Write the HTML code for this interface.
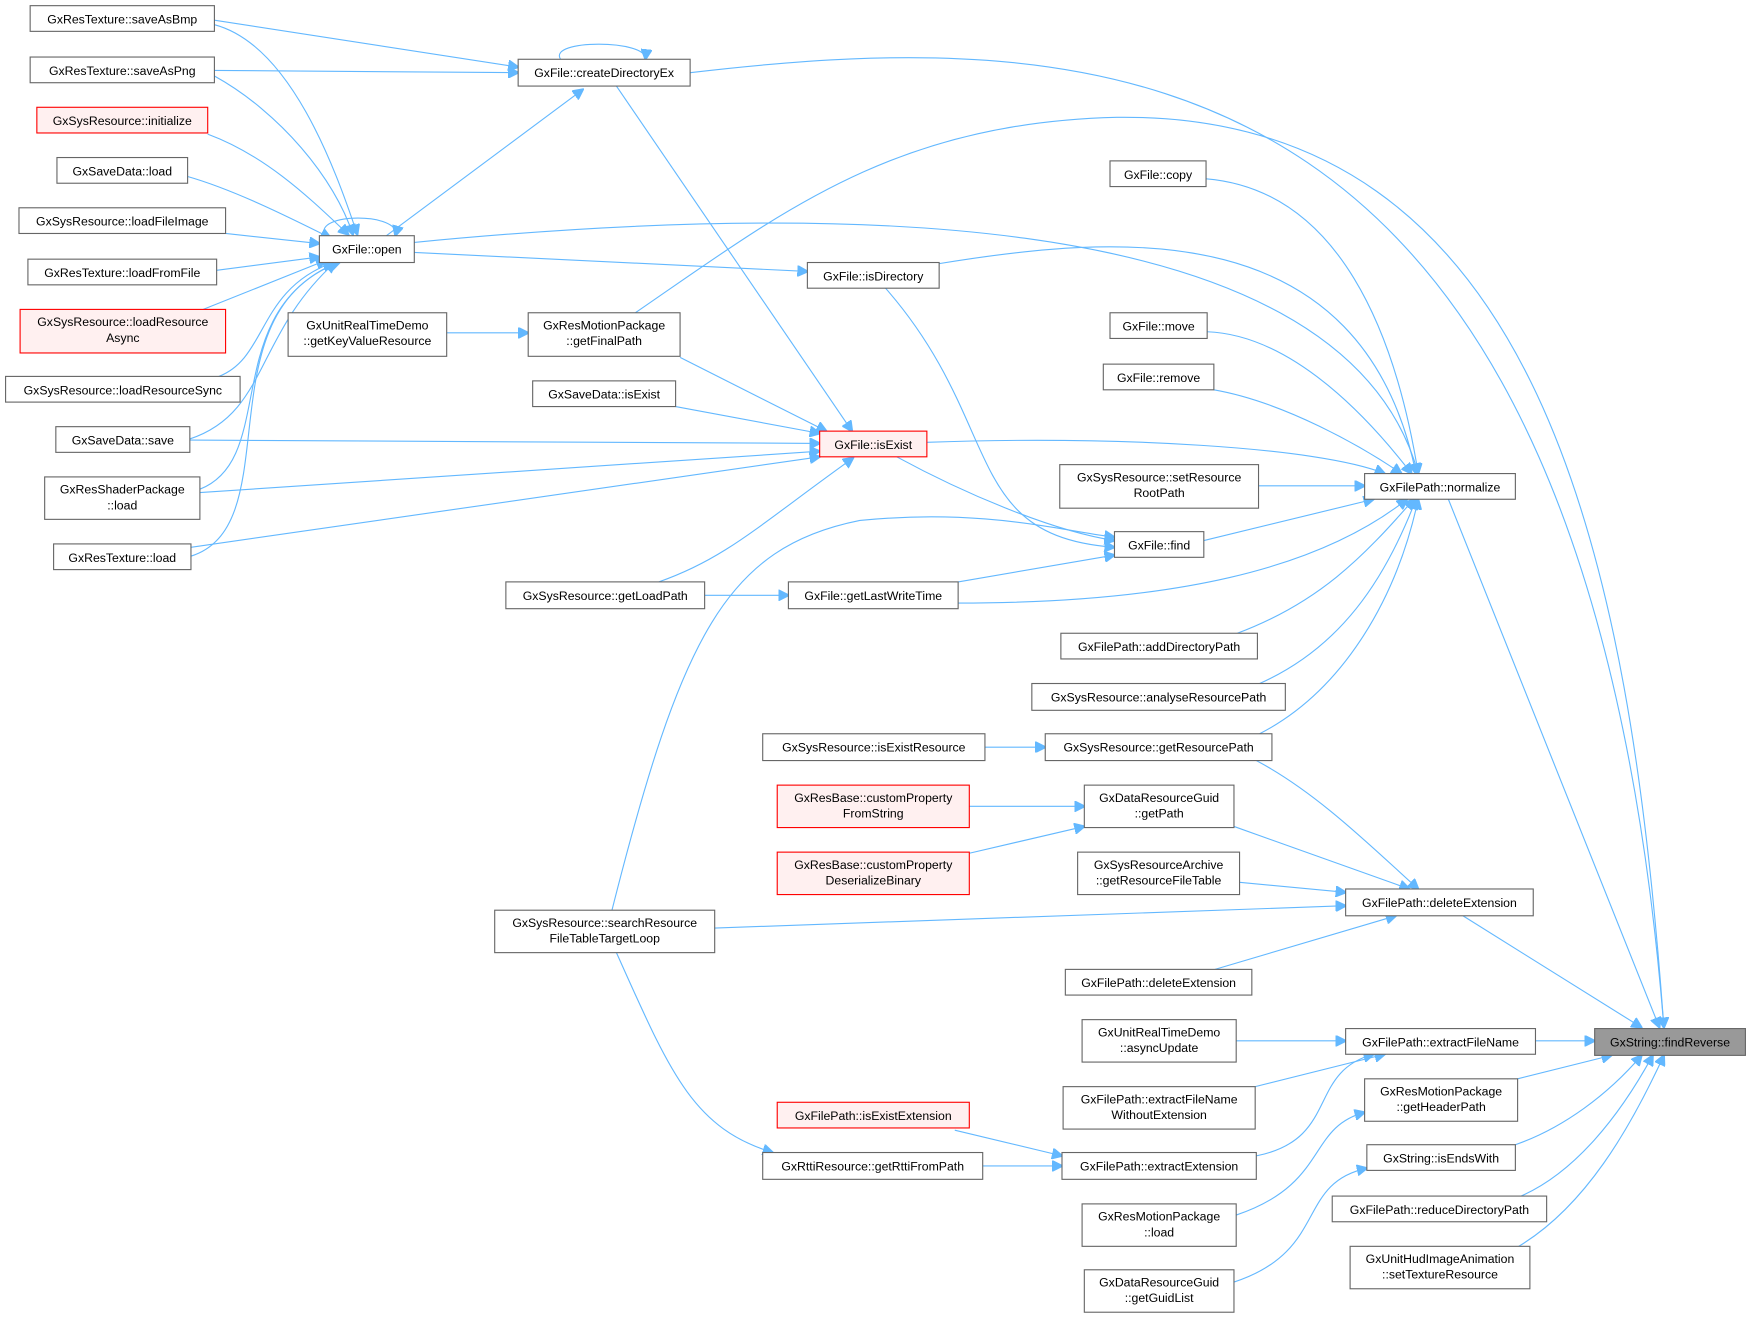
<!DOCTYPE html>
<html><head><meta charset="utf-8"><style>
html,body{margin:0;padding:0;background:#fff;}
svg{display:block}
text{font-family:"Liberation Sans",sans-serif;font-size:11px;fill:#000;text-anchor:middle}
.n{fill:#fff;stroke:#666;stroke-width:1}
.r{fill:#fff0f0;stroke:#f00;stroke-width:1}
.g{fill:#999;stroke:#666;stroke-width:1}
.e{fill:none;stroke:#63b8ff;stroke-width:1}
</style></head><body>
<svg width="1751" height="1319" viewBox="0 0 1568 1181" xmlns="http://www.w3.org/2000/svg">
<defs><marker id="a" viewBox="0 0 10 10" refX="9" refY="5" markerWidth="10" markerHeight="10" markerUnits="userSpaceOnUse" orient="auto"><path d="M0,0 L10,5 L0,10 z" fill="#63b8ff" stroke="#63b8ff"/></marker></defs>
<g class="edges">
<path class="e" marker-end="url(#a)" d="M192,18 L464,60"/>
<path class="e" marker-end="url(#a)" d="M192,63 L464,65"/>
<path class="e" marker-end="url(#a)" d="M192,22 C260,40 300,150 320,210"/>
<path class="e" marker-end="url(#a)" d="M192,68 C250,100 300,160 316,210"/>
<path class="e" marker-end="url(#a)" d="M186,120 C240,140 280,180 312,210"/>
<path class="e" marker-end="url(#a)" d="M168,158 C210,170 260,195 296,213"/>
<path class="e" marker-end="url(#a)" d="M202,209 L286,218"/>
<path class="e" marker-end="url(#a)" d="M194,242 L286,230"/>
<path class="e" marker-end="url(#a)" d="M182,277 L292,233"/>
<path class="e" marker-end="url(#a)" d="M196,337 C240,320 230,260 298,235"/>
<path class="e" marker-end="url(#a)" d="M170,393 C240,370 228,300 300,235"/>
<path class="e" marker-end="url(#a)" d="M179,438 C250,410 195,280 302,235"/>
<path class="e" marker-end="url(#a)" d="M171,498 C260,470 180,280 304,235"/>
<path class="e" marker-end="url(#a)" d="M291,211 C280,190 360,190 354,211"/>
<path class="e" marker-end="url(#a)" d="M502,53 C490,35 580,35 578,53"/>
<path class="e" marker-end="url(#a)" d="M346,211 L522,80"/>
<path class="e" marker-end="url(#a)" d="M552,77 L763,386"/>
<path class="e" marker-end="url(#a)" d="M618,65 C1000,20 1420,40 1490,920"/>
<path class="e" marker-end="url(#a)" d="M569,280 C700,190 800,110 1000,105 C1380,100 1460,500 1490,920"/>
<path class="e" marker-end="url(#a)" d="M371,217 C700,185 1200,170 1270,424"/>
<path class="e" marker-end="url(#a)" d="M371,226 L723,243"/>
<path class="e" marker-end="url(#a)" d="M400,298 L473,298"/>
<path class="e" marker-end="url(#a)" d="M609,320 L740,386"/>
<path class="e" marker-end="url(#a)" d="M605,364 L734,388"/>
<path class="e" marker-end="url(#a)" d="M170,394 L734,397"/>
<path class="e" marker-end="url(#a)" d="M179,441 L734,404"/>
<path class="e" marker-end="url(#a)" d="M171,490 L734,409"/>
<path class="e" marker-end="url(#a)" d="M590,521 C650,500 680,470 764,410"/>
<path class="e" marker-end="url(#a)" d="M803,409 C860,440 940,475 998,484"/>
<path class="e" marker-end="url(#a)" d="M793,258 C900,380 860,480 998,490"/>
<path class="e" marker-end="url(#a)" d="M548,815 C610,570 650,490 770,466 C880,455 950,475 998,481"/>
<path class="e" marker-end="url(#a)" d="M858,521 L998,497"/>
<path class="e" marker-end="url(#a)" d="M631,533 L706,533"/>
<path class="e" marker-end="url(#a)" d="M830,396 C1000,390 1180,400 1240,424"/>
<path class="e" marker-end="url(#a)" d="M858,540 C1050,540 1180,510 1260,447"/>
<path class="e" marker-end="url(#a)" d="M841,236 C1000,210 1220,190 1268,424"/>
<path class="e" marker-end="url(#a)" d="M1080,160 C1200,170 1250,300 1270,424"/>
<path class="e" marker-end="url(#a)" d="M1081,297 C1160,300 1230,380 1264,424"/>
<path class="e" marker-end="url(#a)" d="M1087,349 C1150,360 1220,400 1255,424"/>
<path class="e" marker-end="url(#a)" d="M1127,435 L1222,435"/>
<path class="e" marker-end="url(#a)" d="M1078,484 L1230,447"/>
<path class="e" marker-end="url(#a)" d="M1108,567 C1180,540 1220,500 1266,447"/>
<path class="e" marker-end="url(#a)" d="M1128,612 C1200,580 1240,520 1268,447"/>
<path class="e" marker-end="url(#a)" d="M1128,657 C1200,620 1250,540 1270,447"/>
<path class="e" marker-end="url(#a)" d="M882,669 L936,669"/>
<path class="e" marker-end="url(#a)" d="M1297,447 L1486,920"/>
<path class="e" marker-end="url(#a)" d="M1125,681 C1180,710 1230,760 1270,796"/>
<path class="e" marker-end="url(#a)" d="M868,722 L971,722"/>
<path class="e" marker-end="url(#a)" d="M868,764 L971,740"/>
<path class="e" marker-end="url(#a)" d="M1105,740 L1262,796"/>
<path class="e" marker-end="url(#a)" d="M1110,790 L1205,799"/>
<path class="e" marker-end="url(#a)" d="M640,831 L1205,811"/>
<path class="e" marker-end="url(#a)" d="M1088,868 L1250,820"/>
<path class="e" marker-end="url(#a)" d="M1310,820 L1470,920"/>
<path class="e" marker-end="url(#a)" d="M1107,932 L1205,932"/>
<path class="e" marker-end="url(#a)" d="M1124,973 L1240,944"/>
<path class="e" marker-end="url(#a)" d="M1125,1035 C1200,1020 1170,960 1230,944"/>
<path class="e" marker-end="url(#a)" d="M855,1012 L951,1035"/>
<path class="e" marker-end="url(#a)" d="M880,1044 L951,1044"/>
<path class="e" marker-end="url(#a)" d="M552,853 C600,960 620,1010 692,1032"/>
<path class="e" marker-end="url(#a)" d="M1107,1088 C1190,1060 1170,1010 1222,996"/>
<path class="e" marker-end="url(#a)" d="M1105,1148 C1190,1120 1160,1060 1224,1046"/>
<path class="e" marker-end="url(#a)" d="M1375,932 L1428,932"/>
<path class="e" marker-end="url(#a)" d="M1359,966 L1443,945"/>
<path class="e" marker-end="url(#a)" d="M1357,1025 C1400,1010 1440,980 1470,945"/>
<path class="e" marker-end="url(#a)" d="M1362,1071 C1410,1050 1450,1000 1480,945"/>
<path class="e" marker-end="url(#a)" d="M1360,1116 C1420,1080 1460,1010 1490,945"/>
</g>
<g>
<rect class="n" x="27" y="5" width="165" height="23"/><text x="109.5" y="21">GxResTexture::saveAsBmp</text>
<rect class="n" x="27" y="51" width="165" height="23"/><text x="109.5" y="67">GxResTexture::saveAsPng</text>
<rect class="r" x="33" y="96" width="153" height="23"/><text x="109.5" y="112">GxSysResource::initialize</text>
<rect class="n" x="51" y="141" width="117" height="23"/><text x="109.5" y="157">GxSaveData::load</text>
<rect class="n" x="17" y="186" width="185" height="23"/><text x="109.5" y="202">GxSysResource::loadFileImage</text>
<rect class="n" x="25" y="232" width="169" height="23"/><text x="109.5" y="248">GxResTexture::loadFromFile</text>
<rect class="r" x="18" y="277" width="184" height="39"/><text x="110" y="292">GxSysResource::loadResource</text><text x="110" y="306">Async</text>
<rect class="n" x="5" y="337" width="210" height="23"/><text x="110" y="353">GxSysResource::loadResourceSync</text>
<rect class="n" x="50" y="382" width="120" height="23"/><text x="110" y="398">GxSaveData::save</text>
<rect class="n" x="40" y="427" width="139" height="38"/><text x="109.5" y="442">GxResShaderPackage</text><text x="109.5" y="456">::load</text>
<rect class="n" x="48" y="487" width="123" height="23"/><text x="109.5" y="503">GxResTexture::load</text>
<rect class="n" x="464" y="53" width="154" height="24"/><text x="541" y="69">GxFile::createDirectoryEx</text>
<rect class="n" x="286" y="211" width="85" height="24"/><text x="328.5" y="227">GxFile::open</text>
<rect class="n" x="258" y="280" width="142" height="39"/><text x="329" y="295">GxUnitRealTimeDemo</text><text x="329" y="309">::getKeyValueResource</text>
<rect class="n" x="473" y="280" width="136" height="39"/><text x="541" y="295">GxResMotionPackage</text><text x="541" y="309">::getFinalPath</text>
<rect class="n" x="477" y="341" width="128" height="23"/><text x="541" y="357">GxSaveData::isExist</text>
<rect class="r" x="734" y="386" width="96" height="23"/><text x="782" y="402">GxFile::isExist</text>
<rect class="n" x="723" y="235" width="118" height="23"/><text x="782" y="251">GxFile::isDirectory</text>
<rect class="n" x="453" y="521" width="178" height="24"/><text x="542" y="537">GxSysResource::getLoadPath</text>
<rect class="n" x="706" y="521" width="152" height="24"/><text x="782" y="537">GxFile::getLastWriteTime</text>
<rect class="n" x="443" y="815" width="197" height="38"/><text x="541.5" y="830">GxSysResource::searchResource</text><text x="541.5" y="844">FileTableTargetLoop</text>
<rect class="r" x="696" y="987" width="172" height="23"/><text x="782" y="1003">GxFilePath::isExistExtension</text>
<rect class="n" x="683" y="1032" width="197" height="24"/><text x="781.5" y="1048">GxRttiResource::getRttiFromPath</text>
<rect class="n" x="683" y="657" width="199" height="24"/><text x="782.5" y="673">GxSysResource::isExistResource</text>
<rect class="r" x="696" y="703" width="172" height="38"/><text x="782" y="718">GxResBase::customProperty</text><text x="782" y="732">FromString</text>
<rect class="r" x="696" y="763" width="172" height="38"/><text x="782" y="778">GxResBase::customProperty</text><text x="782" y="792">DeserializeBinary</text>
<rect class="n" x="994" y="144" width="86" height="23"/><text x="1037" y="160">GxFile::copy</text>
<rect class="n" x="994" y="280" width="87" height="23"/><text x="1037.5" y="296">GxFile::move</text>
<rect class="n" x="988" y="326" width="99" height="23"/><text x="1037.5" y="342">GxFile::remove</text>
<rect class="n" x="949" y="416" width="178" height="39"/><text x="1038" y="431">GxSysResource::setResource</text><text x="1038" y="445">RootPath</text>
<rect class="n" x="998" y="476" width="80" height="23"/><text x="1038" y="492">GxFile::find</text>
<rect class="n" x="950" y="567" width="176" height="23"/><text x="1038" y="583">GxFilePath::addDirectoryPath</text>
<rect class="n" x="924" y="612" width="227" height="24"/><text x="1037.5" y="628">GxSysResource::analyseResourcePath</text>
<rect class="n" x="936" y="657" width="203" height="24"/><text x="1037.5" y="673">GxSysResource::getResourcePath</text>
<rect class="n" x="971" y="703" width="134" height="38"/><text x="1038" y="718">GxDataResourceGuid</text><text x="1038" y="732">::getPath</text>
<rect class="n" x="965" y="763" width="145" height="38"/><text x="1037.5" y="778">GxSysResourceArchive</text><text x="1037.5" y="792">::getResourceFileTable</text>
<rect class="n" x="954" y="868" width="167" height="23"/><text x="1037.5" y="884">GxFilePath::deleteExtension</text>
<rect class="n" x="969" y="913" width="138" height="38"/><text x="1038" y="928">GxUnitRealTimeDemo</text><text x="1038" y="942">::asyncUpdate</text>
<rect class="n" x="952" y="973" width="172" height="38"/><text x="1038" y="988">GxFilePath::extractFileName</text><text x="1038" y="1002">WithoutExtension</text>
<rect class="n" x="951" y="1032" width="174" height="24"/><text x="1038" y="1048">GxFilePath::extractExtension</text>
<rect class="n" x="969" y="1078" width="138" height="38"/><text x="1038" y="1093">GxResMotionPackage</text><text x="1038" y="1107">::load</text>
<rect class="n" x="971" y="1137" width="134" height="38"/><text x="1038" y="1152">GxDataResourceGuid</text><text x="1038" y="1166">::getGuidList</text>
<rect class="n" x="1222" y="424" width="135" height="23"/><text x="1289.5" y="440">GxFilePath::normalize</text>
<rect class="n" x="1205" y="796" width="168" height="24"/><text x="1289" y="812">GxFilePath::deleteExtension</text>
<rect class="n" x="1205" y="921" width="170" height="23"/><text x="1290" y="937">GxFilePath::extractFileName</text>
<rect class="n" x="1222" y="966" width="137" height="38"/><text x="1290.5" y="981">GxResMotionPackage</text><text x="1290.5" y="995">::getHeaderPath</text>
<rect class="n" x="1224" y="1025" width="133" height="23"/><text x="1290.5" y="1041">GxString::isEndsWith</text>
<rect class="n" x="1193" y="1071" width="192" height="23"/><text x="1289" y="1087">GxFilePath::reduceDirectoryPath</text>
<rect class="n" x="1209" y="1116" width="161" height="38"/><text x="1289.5" y="1131">GxUnitHudImageAnimation</text><text x="1289.5" y="1145">::setTextureResource</text>
<rect class="g" x="1428" y="921" width="135" height="24"/><text x="1495.5" y="937">GxString::findReverse</text>
</g>
</svg>
</body></html>
